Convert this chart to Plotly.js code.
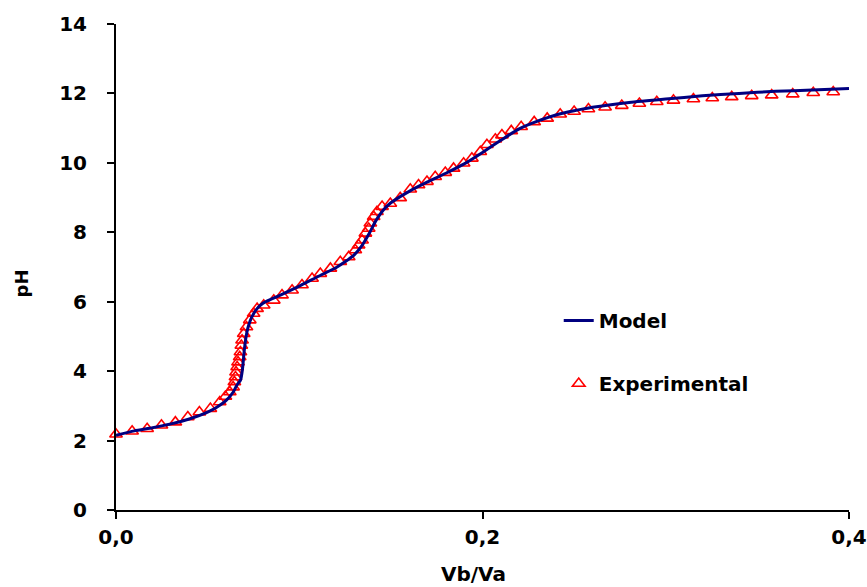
<!DOCTYPE html>
<html>
<head>
<meta charset="utf-8">
<script src="https://cdn.plot.ly/plotly-3.0.1.min.js"></script>
<style>html,body{margin:0;padding:0;background:#fff;}#chart{width:867px;height:587px;}</style>
</head>
<body>
<div id="chart"></div>
<script>
// Experimental data (Vb/Va, pH)
const expX = [0.0000,0.0088,0.0170,0.0248,0.0324,0.0392,0.0455,0.0515,0.0566,0.0597,0.0621,0.0639,0.0646,0.0652,0.0655,0.0661,0.0666,0.0675,0.0679,0.0684,0.0688,0.0697,0.0712,0.0730,0.0751,0.0770,0.0806,0.0861,0.0906,
  0.0961,0.1015,0.1070,0.1115,0.1170,0.1224,0.1270,0.1306,0.1324,0.1343,0.1361,0.1379,0.1388,0.1406,0.1424,0.1452,0.1497,0.1551,
  0.1606,0.1651,0.1697,0.1742,0.1797,0.1842,0.1897,0.1942,0.1988,0.2024,0.2070,0.2106,0.2157,0.2211,0.2282,0.2353,0.2424,0.2500,
  0.2578,0.2669,0.2760,0.2856,0.2951,0.3042,0.3151,0.3254,0.3360,0.3469,0.3578,0.3693,0.3805,0.3914];
const expY = [2.18,2.27,2.34,2.44,2.53,2.68,2.82,2.92,3.11,3.27,3.40,3.54,3.69,3.83,3.97,4.12,4.26,4.41,4.55,4.74,4.89,5.08,5.27,5.47,5.66,5.80,5.90,6.04,6.19,
  6.33,6.48,6.67,6.81,6.96,7.15,7.29,7.49,7.63,7.77,7.97,8.11,8.26,8.45,8.59,8.74,8.83,8.99,
  9.24,9.36,9.46,9.60,9.72,9.84,9.99,10.13,10.32,10.52,10.68,10.80,10.92,11.04,11.18,11.28,11.40,11.48,
  11.55,11.60,11.65,11.71,11.76,11.80,11.84,11.87,11.90,11.93,11.95,11.98,12.02,12.04];

// Model curve (Vb/Va, pH)
const modelX = [0,0.01,0.02,0.03,0.04,0.05,0.055,0.06,0.064,0.066,0.068,0.069,0.070,0.071,0.072,0.074,0.077,0.080,0.085,0.09,
  0.10,0.11,0.12,0.125,0.13,0.134,0.138,0.142,0.146,0.15,0.16,0.17,0.18,0.19,0.20,0.21,0.22,0.23,0.24,0.25,0.26,0.28,0.30,0.32,0.34,0.36,0.38,0.40];
const modelY = [2.15,2.28,2.37,2.48,2.62,2.82,2.96,3.15,3.40,3.60,3.75,4.05,4.60,5.00,5.25,5.55,5.80,5.95,6.08,6.20,
  6.45,6.72,6.98,7.15,7.35,7.60,7.95,8.35,8.65,8.85,9.18,9.45,9.70,9.97,10.30,10.65,10.98,11.20,11.38,11.50,11.60,11.74,11.84,11.93,12.00,12.06,12.10,12.14];

const xTicks = [0, 0.2, 0.4];
const yTicks = [0, 2, 4, 6, 8, 10, 12, 14];
const xTitle = 'Vb/Va';
const yTitle = 'pH';

const font = {family: '"DejaVu Sans", "Liberation Sans", Arial, sans-serif', size: 20, color: '#000', weight: 'bold'};

const traces = [
  {
    x: expX, y: expY, type: 'scatter', mode: 'markers', name: 'Experimental',
    legendgroup: 'b', legendrank: 2, cliponaxis: false,
    marker: {symbol: 'triangle-up-open', size: 11, color: '#ff0000', line: {width: 1.6, color: '#ff0000'}}
  },
  {
    x: modelX, y: modelY, type: 'scatter', mode: 'lines', name: 'Model',
    legendgroup: 'a', legendrank: 1, cliponaxis: false,
    line: {color: '#000080', width: 3, shape: 'spline', smoothing: 0.6}
  }
];

const layout = {
  width: 867, height: 587,
  margin: {l: 116, r: 18, t: 24, b: 77},
  paper_bgcolor: '#fff', plot_bgcolor: '#fff',
  separators: ',.',
  font: font,
  showlegend: true,
  legend: {
    x: 0.604, y: 0.43, xanchor: 'left', yanchor: 'top',
    traceorder: 'grouped', tracegroupgap: 34,
    font: font,
    bgcolor: 'rgba(0,0,0,0)', borderwidth: 0
  },
  xaxis: {
    range: [0, 0.4], tickvals: xTicks, tickformat: '.1f',
    showline: true, linecolor: '#000', linewidth: 2,
    ticks: 'outside', ticklen: 7, tickwidth: 2, tickcolor: '#000',
    showgrid: false, zeroline: false, ticklabelstandoff: 1,
    tickfont: font
  },
  yaxis: {
    range: [0, 14], tickvals: yTicks,
    showline: true, linecolor: '#000', linewidth: 2,
    ticks: 'outside', ticklen: 7, tickwidth: 2, tickcolor: '#000',
    showgrid: false, zeroline: false, ticklabelstandoff: 16,
    tickfont: font
  },
  annotations: [
    {text: xTitle, xref: 'paper', yref: 'paper', x: 0.488, y: -0.131, xanchor: 'center', yanchor: 'middle',
     showarrow: false, font: font},
    {text: yTitle, xref: 'paper', yref: 'paper', x: -0.129, y: 0.467, xanchor: 'center', yanchor: 'middle',
     textangle: -90, showarrow: false, font: {family: font.family, size: 18, color: '#000', weight: 'bold'}}
  ]
};

Plotly.newPlot('chart', traces, layout, {displayModeBar: false, staticPlot: true});
</script>
</body>
</html>
